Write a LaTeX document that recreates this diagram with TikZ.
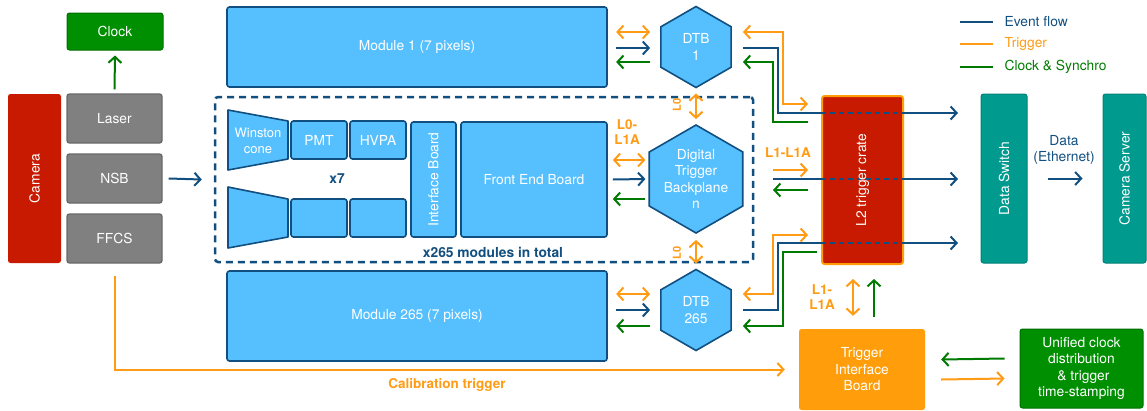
\documentclass[tikz,border=0pt]{standalone}
\usepackage{fontspec}
\setmainfont{TeX Gyre Heros}
\usetikzlibrary{arrows.meta,shapes.geometric,calc}
\definecolor{dblue}{RGB}{17,79,128}
\definecolor{lblue}{RGB}{86,192,255}
\definecolor{tor}{RGB}{255,155,20}
\definecolor{tibor}{RGB}{255,158,10}
\definecolor{cgreen}{RGB}{0,122,0}
\definecolor{bgreen}{RGB}{0,143,0}
\definecolor{bgreenb}{RGB}{0,110,0}
\definecolor{cred}{RGB}{200,26,0}
\definecolor{cgray}{RGB}{128,128,128}
\definecolor{cgrayb}{RGB}{105,105,105}
\definecolor{teal}{RGB}{0,154,143}
\definecolor{tealb}{RGB}{0,130,120}
\tikzset{
  basebox/.style={rounded corners=2.5pt, inner sep=0pt, text=white, align=center},
  bluebox/.style={basebox, draw=dblue, fill=lblue, line width=1.6pt},
  graybox/.style={basebox, draw=cgrayb, fill=cgray, line width=1.4pt, minimum width=95pt, minimum height=49pt},
  greenbox/.style={basebox, draw=bgreenb, fill=bgreen, line width=1pt},
  tealbox/.style={basebox, draw=tealb, fill=teal, line width=1pt, minimum height=169pt},
  hexa/.style={regular polygon, regular polygon sides=6, shape border rotate=30, draw=dblue, fill=lblue, line width=1.6pt, inner sep=0pt},
  lbl/.style={text=white, align=center},
  vlbl/.style={text=white, rotate=90},
  olbl/.style={text=tor, font=\fontsize{13.5}{15.5}\selectfont\bfseries, align=center},
  ev/.style={draw=dblue, line width=2pt},
  trig/.style={draw=tor, line width=2pt},
  clk/.style={draw=cgreen, line width=2pt},
  evdash/.style={draw=dblue, line width=2pt, dash pattern=on 5pt off 4pt},
}
\begin{document}
\begin{tikzpicture}[x=1pt, y=-1pt, >={Straight Barb[length=6pt,width=13pt]}, font=\fontsize{13.8}{16.5}\selectfont]
\useasboundingbox (0,0) rectangle (1147,410);

% left column
\node[greenbox, minimum width=96pt, minimum height=37pt] (clock) at (115,31.5) {Clock};
\node[basebox, fill=cred, minimum width=53pt, minimum height=169pt] (camera) at (34.5,178.5) {};
\node[vlbl] at (camera) {Camera};
\node[graybox] (laser) at (114.5,118.5) {Laser};
\node[graybox] (nsb) at (114.5,178.5) {NSB};
\node[graybox] (ffcs) at (114.5,238.5) {FFCS};

% modules
\node[bluebox, minimum width=380pt, minimum height=80pt] (mod1) at (417,47) {Module 1 (7 pixels)};
\node[bluebox, minimum width=380pt, minimum height=90pt] (mod265) at (417,316) {Module 265 (7 pixels)};

% dashed group
\node[draw=dblue, line width=2.5pt, dash pattern=on 7pt off 5pt, rounded corners=3pt, minimum width=538pt, minimum height=165pt, inner sep=0pt] (grp) at (484,179.5) {};

% module internals
\draw[draw=dblue, fill=lblue, line width=1.6pt, line join=round] (228,110) -- (288,121) -- (288,159) -- (228,170) -- cycle;
\node[lbl, font=\fontsize{13}{15.5}\selectfont] (wc) at (258,141) {Winston\\cone};
\draw[draw=dblue, fill=lblue, line width=1.6pt, line join=round] (228,187) -- (288,199) -- (288,237) -- (228,248) -- cycle;
\node[bluebox, minimum width=56pt, minimum height=38pt] (pmt) at (319,140) {PMT};
\node[bluebox, minimum width=56pt, minimum height=38pt] (hvpa) at (378,140) {HVPA};
\node[bluebox, minimum width=56pt, minimum height=38pt] (pmt2) at (319,218) {};
\node[bluebox, minimum width=56pt, minimum height=38pt] (hvpa2) at (378,218) {};
\node[text=dblue, font=\fontsize{13.8}{16}\selectfont\bfseries] (x7) at (337,179) {x7};
\node[bluebox, minimum width=45pt, minimum height=115pt] (ib) at (433.5,179.5) {};
\node[vlbl] at (ib) {Interface Board};
\node[bluebox, minimum width=146pt, minimum height=115pt] (feb) at (534,179.5) {Front End Board};
\node[text=dblue, font=\fontsize{13.8}{16}\selectfont\bfseries] (x265) at (493,252) {x265 modules in total};

% hexagons
\node[hexa, minimum size=81pt] (dtb1) at (696,47) {};
\node[lbl] at (dtb1) {DTB\\1};
\node[hexa, minimum size=108pt] (dtbn) at (696,179) {};
\node[lbl] at (dtbn) {Digital\\Trigger\\Backplane\\n};
\node[hexa, minimum size=81pt] (dtb265) at (696,310) {};
\node[lbl] at (dtb265) {DTB\\265};

% right column
\node[basebox, draw=tibor, fill=cred, line width=2pt, minimum width=81pt, minimum height=168pt] (crate) at (862.5,180) {};
\node[tealbox, minimum width=46pt] (dsw) at (1004,178.5) {};
\node[vlbl] at (dsw) {Data Switch};
\node[tealbox, minimum width=43pt] (csrv) at (1124.5,178.5) {};
\node[vlbl] at (csrv) {Camera Server};
\node[basebox, fill=tibor, minimum width=126pt, minimum height=81pt] (tib) at (862,369.5) {Trigger\\Interface\\Board};
\node[greenbox, minimum width=123pt, minimum height=79pt] (uni) at (1081.5,368.5) {Unified clock\\distribution\\\ \& trigger\\time-stamping};

% legend
\draw[ev] (960,22) -- (993,22);
\node[anchor=west, text=dblue] (lgev) at (1001,22) {Event flow};
\draw[trig] (960,44) -- (993,44);
\node[anchor=west, text=tor] (lgtr) at (1001,44) {Trigger};
\draw[clk] (960,67) -- (993,67);
\node[anchor=west, text=cgreen] (lgck) at (1001,67) {Clock \& Synchro};

% left connectors
\draw[clk,->] ($(laser.north)+(0,-4)$) -- ($(clock.south)+(0,5)$);
\draw[ev,->] ($(nsb.east)+(6,0)$) -- ($(grp.west)+(-12,0)$);
\draw[trig,->] ($(ffcs.south)+(0,12)$) |- ($(tib.west)+(-14,0)$);
\node[olbl] (calib) at (447,385) {Calibration trigger};

% module 1 <-> DTB 1
\draw[trig,<->] ($(dtb1.west)+(-44,-15)$) -- ($(dtb1.west)+(-10,-15)$);
\draw[ev,->] ($(dtb1.west)+(-44,1)$) -- ($(dtb1.west)+(-10,1)$);
\draw[clk,->] ($(dtb1.west)+(-10,15)$) -- ($(dtb1.west)+(-44,15)$);

% FEB <-> backplane
\draw[trig,<->] ($(feb.east)+(5,-19.5)$) -- ($(dtbn.west)+(-3,-19)$);
\draw[ev,->] ($(feb.east)+(5,0)$) -- ($(dtbn.west)+(-3,0)$);
\draw[clk,->] ($(dtbn.west)+(-3,20)$) -- ($(feb.east)+(5,19.5)$);

% module 265 <-> DTB 265
\draw[trig,<->] ($(dtb265.west)+(-44,-16)$) -- ($(dtb265.west)+(-10,-16)$);
\draw[ev,->] ($(dtb265.west)+(-44,0)$) -- ($(dtb265.west)+(-10,0)$);
\draw[clk,->] ($(dtb265.west)+(-10,16)$) -- ($(dtb265.west)+(-44,16)$);

% L0 links
\draw[trig,<->] ($(dtb1.south)+(0,5)$) -- ($(dtbn.north)+(0,-5)$);
\node[olbl, font=\fontsize{11}{13}\selectfont\bfseries, rotate=90] (l0a) at (677,105) {L0};
\draw[trig,<->] ($(dtbn.south)+(0,6)$) -- ($(dtb265.north)+(0,-5)$);
\node[olbl, font=\fontsize{11}{13}\selectfont\bfseries, rotate=90] (l0b) at (677,253) {L0};
\node[olbl] (l0l1a) at (627,132) {L0-\\L1A};

% DTB 1 <-> crate
\draw[trig,<->] ($(dtb1.east)+(11,-15)$) -| (783,104) -- (808,104);
\draw[ev] ($(dtb1.east)+(11,1)$) -| (778,113) -- (crate.west |- 0,113);
\draw[evdash] (crate.west |- 0,113) -- (crate.east |- 0,113);
\draw[ev,->] (crate.east |- 0,113) -- (958,113);
\draw[clk,->] (808,122) -| (773,62) -- ($(dtb1.east)+(11,15)$);

% backplane <-> crate
\node[olbl] (l1l1a) at (788,153) {L1-L1A};
\draw[trig,->] (773,170) -- (808,170);
\draw[ev] (773,179) -- (crate.west |- 0,179);
\draw[evdash] (crate.west |- 0,179) -- (crate.east |- 0,179);
\draw[ev,->] (crate.east |- 0,179) -- (958,179);
\draw[clk,->] (808,190) -- (773,190);

% DTB 265 <-> crate
\draw[trig,<->] ($(dtb265.east)+(11,-16)$) -| (773,235) -- (808,235);
\draw[ev] ($(dtb265.east)+(11,0)$) -| (778,243) -- (crate.west |- 0,243);
\draw[evdash] (crate.west |- 0,243) -- (crate.east |- 0,243);
\draw[ev,->] (crate.east |- 0,243) -- (958,243);
\draw[clk,->] (817,252) -| (783,326) -- ($(dtb265.east)+(11,16)$);

\node[vlbl] at (crate) {L2 trigger crate};

% crate <-> TIB
\draw[trig,<->] ($(crate.south)+(-9.5,14)$) -- ($(tib.north)+(-9,-13)$);
\draw[clk,->] ($(tib.north)+(12,-12)$) -- ($(crate.south)+(11.5,14)$);
\node[olbl] (l1b) at (822,297) {L1-\\L1A};

% TIB <-> unified clock
\draw[clk,->] ($(uni.west)+(-15,-10)$) -- ($(tib.east)+(16,-10)$);
\draw[trig,->] ($(tib.east)+(16,10)$) -- ($(uni.west)+(-15,10)$);

% data switch -> camera server
\draw[ev,->] ($(dsw.east)+(20,0)$) -- ($(csrv.west)+(-20,0)$);
\node[text=dblue, align=center] (dlbl) at (1064,150) {Data\\(Ethernet)};
\end{tikzpicture}
\end{document}
